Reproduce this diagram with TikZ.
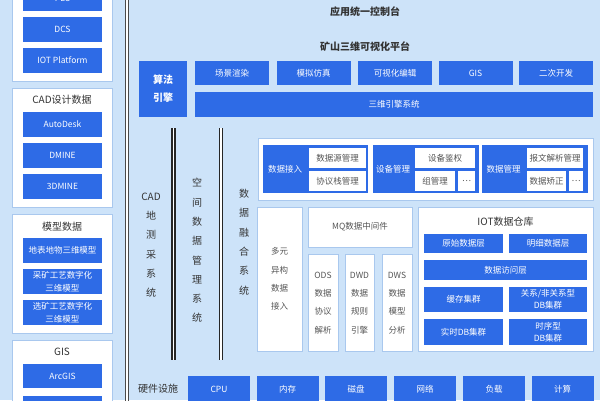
\documentclass[tikz,border=0pt]{standalone}
\usepackage{fontspec}
\setmainfont{Noto Sans CJK SC}
\definecolor{bgblue}{HTML}{CDE3F9}
\definecolor{boxblue}{HTML}{2E6BE6}
\definecolor{edgeblue}{HTML}{A9C8EE}
\definecolor{txtdark}{HTML}{333333}
\definecolor{txtgray}{HTML}{555555}
\definecolor{railgray}{HTML}{4A4A4A}
\tikzstyle{bluebox}=[rectangle, fill=boxblue, text=white, inner sep=0pt, align=center, font=\fontsize{8.5}{12.5}\selectfont]
\tikzstyle{cellbox}=[rectangle, fill=white, text=txtgray, inner sep=0pt, align=center, font=\fontsize{8.5}{10}\selectfont]
\tikzstyle{panelbox}=[rectangle, draw=edgeblue, fill=white, line width=1pt, inner sep=0pt]
\tikzstyle{whitebox}=[panelbox, text=txtgray, align=center, font=\fontsize{8.5}{18.3}\selectfont]
\tikzstyle{grouplabel}=[text=white, font=\fontsize{8.5}{10}\selectfont]
\tikzstyle{headtext}=[text=txtdark, font=\fontsize{10}{12}\selectfont\bfseries]
\tikzstyle{captext}=[text=txtdark, font=\fontsize{10}{12}\selectfont]
\tikzstyle{coltext}=[text=txtdark, align=center, font=\fontsize{10}{19.3}\selectfont]
\tikzstyle{rail}=[draw=railgray, line width=0.9pt, double=white, double distance=1.3pt]
\tikzstyle{darkrail}=[draw=black!85, line width=1.3pt, double=white, double distance=1.5pt]
\tikzset{sz/.style 2 args={minimum width=#1pt, minimum height=#2pt}}
\newcommand{\bluebox}{\node[bluebox]}
\newcommand{\cellbox}{\node[cellbox]}
\newcommand{\panelbox}{\node[panelbox]}
\newcommand{\whitebox}{\node[whitebox]}

\begin{document}
\begin{tikzpicture}[x=1pt,y=-1pt]
\useasboundingbox (0,0) rectangle (600,400);
\fill[bgblue] (0,0) rectangle (600,400);
\clip (0,0) rectangle (600,400);

% left column: data sources
\panelbox (src) at (62,20) [sz={100}{122}] {};
\bluebox (plc) at (62.5,-2) [sz={79}{25}] {PLC};
\bluebox (dcs) at (62.5,29.5) [sz={79}{25}] {DCS};
\bluebox (iotp) at (62.5,60.5) [sz={79}{25}] {IOT Platform};

\panelbox (cad) at (62,147.5) [sz={100}{119}] {};
\node[captext] (cadt) at (62,100) {CAD设计数据};
\bluebox (autodesk) at (62.5,124.5) [sz={79}{25}] {AutoDesk};
\bluebox (dmine) at (62.5,155.5) [sz={79}{25}] {DMINE};
\bluebox (dmine3) at (62.5,186.5) [sz={79}{25}] {3DMINE};

\panelbox (model) at (62,273.5) [sz={100}{119}] {};
\node[captext] (modelt) at (62,227) {模型数据};
\bluebox (m1) at (62.5,250.5) [sz={79}{25}] {地表地物三维模型};
\bluebox (m2) at (62.5,281.5) [sz={79}{25}] {采矿工艺数字化\\三维模型};
\bluebox (m3) at (62.5,312.5) [sz={79}{25}] {选矿工艺数字化\\三维模型};

\panelbox (gis) at (62,390) [sz={100}{100}] {};
\node[captext] (gist) at (62,352) {GIS};
\bluebox (arcgis) at (62.5,376) [sz={79}{24}] {ArcGIS};
\bluebox (gis2) at (62.5,408) [sz={79}{25}] {};

\draw[rail] (127,-5) -- (127,405);

% platform
\node[headtext] (console) at (365,12) {应用统一控制台};
\node[headtext] (platform) at (365,47) {矿山三维可视化平台};
\bluebox (algo) at (163,89) [sz={48}{56}, font=\fontsize{10}{18}\selectfont\bfseries] {算法\\引擎};
\bluebox (render) at (232,73) [sz={74}{24}] {场景渲染};
\bluebox (simu) at (313.5,73) [sz={74}{24}] {模拟仿真};
\bluebox (edit) at (395,73) [sz={74}{24}] {可视化编辑};
\bluebox (gisapp) at (475.5,73) [sz={74}{24}] {GIS};
\bluebox (devel) at (556,73) [sz={74}{24}] {二次开发};
\bluebox (engine) at (394,104.5) [sz={398}{25}] {三维引擎系统};

% systems
\draw[darkrail] (173.5,128) -- (173.5,360);
\draw[darkrail] (221,128) -- (221,360);
\node[coltext] (survey) at (151,245) {CAD\\地\\测\\采\\系\\统};
\node[coltext] (spatial) at (197,250.5) {空\\间\\数\\据\\管\\理\\系\\统};
\node[coltext] (fusion) at (244,242) {数\\据\\融\\合\\系\\统};

% data access
\panelbox (access) at (425.5,169) [sz={335}{62}] {};
\bluebox (g1) at (315.5,169) [sz={105}{48}] {};
\node[grouplabel] (datain) at (285,169) {数据接入};
\cellbox (srcmgr) at (337.5,158) [sz={57}{20}] {数据源管理};
\cellbox (stackmgr) at (337.5,181) [sz={57}{20}] {协议栈管理};
\bluebox (g2) at (426,169) [sz={106}{48}] {};
\node[grouplabel] (devmgr) at (393,169) {设备管理};
\cellbox (auth) at (445,158) [sz={60}{20}] {设备鉴权};
\cellbox (grp) at (435,181) [sz={40}{20}] {组管理};
\cellbox (more1) at (466.5,181) [sz={17}{20}] {…};
\bluebox (g3) at (535,169) [sz={106}{48}] {};
\node[grouplabel] (datamgr) at (503.5,169) {数据管理};
\cellbox (msgparse) at (555,158) [sz={56}{20}] {报文解析管理};
\cellbox (correct) at (546.5,181) [sz={39}{20}] {数据矫正};
\cellbox (more2) at (576,181) [sz={14}{20}] {…};

\whitebox (hetero) at (279.5,279) [sz={45}{144}] {多元\\异构\\数据\\接入};
\whitebox (mq) at (360,227) [sz={104}{40}] {MQ数据中间件};
\whitebox (ods) at (323,302.5) [sz={30}{97}, text depth=-4pt] {ODS\\数据\\协议\\解析};
\whitebox (dwd) at (359.5,302.5) [sz={29}{97}, text depth=-4pt] {DWD\\数据\\规则\\引擎};
\whitebox (dws) at (397,302.5) [sz={30}{97}, text depth=-4pt] {DWS\\数据\\模型\\分析};

% warehouse
\panelbox (warehouse) at (505.5,279) [sz={175}{144}] {};
\node[captext] (warehouset) at (505.5,222) {IOT数据仓库};
\bluebox (raw) at (463.5,243.5) [sz={79}{19}] {原始数据层};
\bluebox (detail) at (548,243.5) [sz={78}{19}] {明细数据层};
\bluebox (dal) at (505.5,270) [sz={163}{20}] {数据访问层};
\bluebox (cache) at (463.5,299.5) [sz={79}{25}] {缓存集群};
\bluebox (reldb) at (548,299.5) [sz={78}{25}] {关系/非关系型\\DB集群};
\bluebox (rtdb) at (463.5,332) [sz={79}{26}] {实时DB集群};
\bluebox (tsdb) at (548,332) [sz={78}{26}] {时序型\\DB集群};

% hardware
\node[captext] (hw) at (158,389) {硬件设施};
\bluebox (cpu) at (219,389) [sz={62}{26}] {CPU};
\bluebox (mem) at (287.5,389) [sz={62}{26}] {内存};
\bluebox (disk) at (356,389) [sz={62}{26}] {磁盘};
\bluebox (net) at (425,389) [sz={62}{26}] {网络};
\bluebox (load) at (494,389) [sz={62}{26}] {负载};
\bluebox (calc) at (562.5,389) [sz={62}{26}] {计算};
\end{tikzpicture}
\end{document}
